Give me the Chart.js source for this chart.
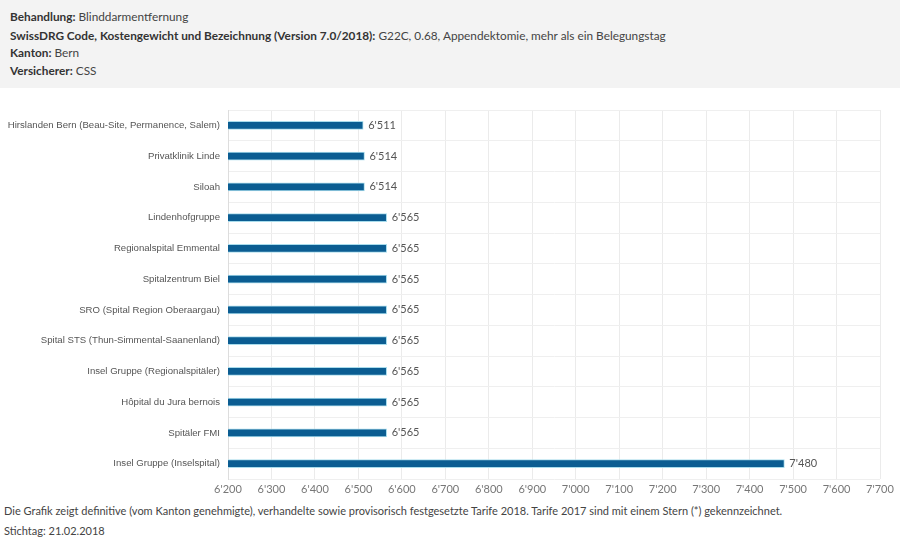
<!DOCTYPE html>
<html>
<head>
<meta charset="utf-8">
<script src="https://cdn.jsdelivr.net/npm/chart.js@4/dist/chart.umd.min.js"></script>
<style>
	body { margin: 0; width: 900px; height: 539px; background: #fff; position: relative; overflow: hidden; }
	#info {
		position: absolute; left: 0; top: 0; width: 900px; height: 88px;
		background: #f3f3f3; font-family: Lato, sans-serif; font-size: 11.8px; color: #444;
	}
	#info div { position: absolute; left: 10px; }
	#info b { font-weight: bold; color: #333; }
	#graph-display { position: absolute; left: 0; top: 95px; width: 900px; height: 408px; }
	.note { position: absolute; left: 4px; font-family: Lato, sans-serif; font-size: 11px; color: #444; }
</style>
</head>
<body>
<div id="info">
	<div style="top:9px"><b>Behandlung:</b> Blinddarmentfernung</div>
	<div style="top:28px"><b>SwissDRG Code, Kostengewicht und Bezeichnung (Version 7.0/2018):</b> G22C, 0.68, Appendektomie, mehr als ein Belegungstag</div>
	<div style="top:45px"><b>Kanton:</b> Bern</div>
	<div style="top:63px"><b>Versicherer:</b> CSS</div>
</div>
<div id="graph-display"><canvas id="tarifChart"></canvas></div>
<div class="note" style="top:504px">Die Grafik zeigt definitive (vom Kanton genehmigte), verhandelte sowie provisorisch festgesetzte Tarife 2018. Tarife 2017 sind mit einem Stern (*) gekennzeichnet.</div>
<div class="note" style="top:524px">Stichtag: 21.02.2018</div>

<script>
// Data
const spitaeler = [
	"Hirslanden Bern (Beau-Site, Permanence, Salem)",
	"Privatklinik Linde",
	"Siloah",
	"Lindenhofgruppe",
	"Regionalspital Emmental",
	"Spitalzentrum Biel",
	"SRO (Spital Region Oberaargau)",
	"Spital STS (Thun-Simmental-Saanenland)",
	"Insel Gruppe (Regionalspitäler)",
	"Hôpital du Jura bernois",
	"Spitäler FMI",
	"Insel Gruppe (Inselspital)",
];
const tarife = [6511, 6514, 6514, 6565, 6565, 6565, 6565, 6565, 6565, 6565, 6565, 7480];
const tickWerte = [6200, 6300, 6400, 6500, 6600, 6700, 6800, 6900, 7000, 7100, 7200, 7300, 7400, 7500, 7600, 7700];

// 6511 -> 6'511
function formatCHF(v) {
	let t = Math.floor(v / 1000);
	let r = String(v % 1000).padStart(3, "0");
	return t + "'" + r;
}

// draw the value next to each bar
const valueLabels = {
	id: "valueLabels",
	afterDatasetsDraw(chart) {
		const ctx = chart.ctx;
		const meta = chart.getDatasetMeta(0);
		ctx.save();
		ctx.font = "11px Lato, sans-serif";
		ctx.fillStyle = "#555";
		ctx.textBaseline = "middle";
		meta.data.forEach(function (bar, i) {
			ctx.fillText(formatCHF(tarife[i]), bar.x + 5, bar.y);
		});
		ctx.restore();
	},
};

const graphCanvas = document.getElementById("tarifChart").getContext("2d");

new Chart(graphCanvas, {
	type: "bar",
	data: {
		labels: spitaeler,
		datasets: [
			{
				data: tarife,
				backgroundColor: "#0b5d92",
				borderColor: "#a8dcec",
				borderWidth: 1,
				barThickness: 8,
				borderSkipped: false,
			},
		],
	},
	options: {
		indexAxis: "y",
		responsive: true,
		maintainAspectRatio: false,
		animation: false,
		layout: { padding: { top: 15, right: 20, left: 0, bottom: 0 } },
		scales: {
			x: {
				min: 6200,
				max: 7700,
				afterBuildTicks: function (scale) {
					scale.ticks = tickWerte.map((v) => ({ value: v }));
				},
				afterFit: function (scale) {
					scale.height = 24;
				},
				ticks: {
					callback: function (value) {
						return formatCHF(value);
					},
					color: "#777",
					font: { family: "Lato", size: 11 },
					padding: 4,
				},
				grid: { color: "#ebebeb", drawTicks: false },
				border: { display: false },
			},
			y: {
				afterFit: function (scale) {
					scale.width = 228;
				},
				ticks: {
					color: "#555",
					font: { family: "Liberation Sans", size: 9.6 },
					padding: 8,
				},
				grid: { color: "#efefef", drawTicks: false },
				border: { color: "#dddddd" },
			},
		},
		plugins: {
			legend: { display: false },
			tooltip: { enabled: false },
		},
	},
	plugins: [valueLabels],
});
</script>
</body>
</html>
